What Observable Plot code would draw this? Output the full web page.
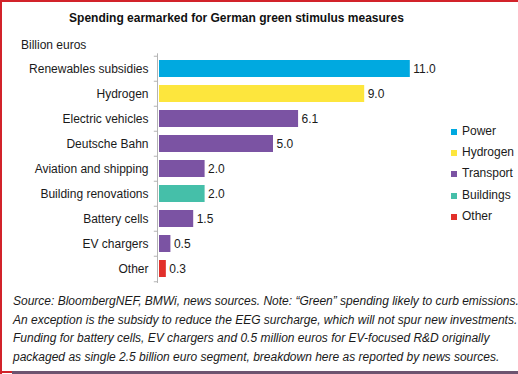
<!DOCTYPE html>
<html>
<head>
<meta charset="utf-8">
<script src="https://cdn.jsdelivr.net/npm/d3@7"></script>
<script src="https://cdn.jsdelivr.net/npm/@observablehq/plot@0.6"></script>
<style>
  html, body { margin: 0; padding: 0; background: #fff; }
  body { width: 518px; height: 374px; overflow: hidden; position: relative; font-family: "Liberation Sans", Arial, sans-serif; color: #1a1a1a; }
  .abs { position: absolute; white-space: nowrap; }
  #title { left: 0; width: 473px; top: 11px; text-align: center; font-weight: bold; font-size: 12px; color: #111; }
  #unit { left: 21px; top: 38px; font-size: 12px; }
  #chart { left: 0; top: 40px; }
  #legend { left: 451px; top: 124px; font-size: 12px; }
  #legend .item { height: 21.2px; display: flex; align-items: flex-start; }
  #legend .sw { width: 6px; height: 6px; margin-top: 5px; margin-right: 5px; }
  #foot { left: 13px; top: 292px; font-size: 12px; font-style: italic; line-height: 18.6px; }
  #bl { left: 0; top: 0; width: 2px; height: 374px; background: #d2232a; }
  #bt { left: 0; top: 0; width: 518px; height: 1.5px; background: #d2232a; }
  #bb1 { left: 0; top: 371px; width: 12px; height: 2px; background: #d2232a; }
  #bb2 { left: 12px; top: 371px; width: 506px; height: 3px; background: #6d5470; }
</style>
</head>
<body>
<div id="title" class="abs">Spending earmarked for German green stimulus measures</div>
<div id="unit" class="abs">Billion euros</div>
<div id="chart" class="abs"></div>
<div id="legend" class="abs"></div>
<div id="foot" class="abs">Source: BloombergNEF, BMWi, news sources. Note: “Green” spending likely to curb emissions.<br>An exception is the subsidy to reduce the EEG surcharge, which will not spur new investments.<br>Funding for battery cells, EV chargers and 0.5 million euros for EV-focused R&amp;D originally<br>packaged as single 2.5 billion euro segment, breakdown here as reported by news sources.</div>
<div id="bl" class="abs"></div>
<div id="bt" class="abs"></div>
<div id="bb1" class="abs"></div>
<div id="bb2" class="abs"></div>
<script>
const categories = ["Renewables subsidies", "Hydrogen", "Electric vehicles", "Deutsche Bahn", "Aviation and shipping", "Building renovations", "Battery cells", "EV chargers", "Other"];
const values = [11.0, 9.0, 6.1, 5.0, 2.0, 2.0, 1.5, 0.5, 0.3];
const groupOf = ["Power", "Hydrogen", "Transport", "Transport", "Transport", "Buildings", "Transport", "Transport", "Other"];
const groups = ["Power", "Hydrogen", "Transport", "Buildings", "Other"];
const groupColors = ["#00a9e0", "#fde63d", "#7b53a3", "#45bfa9", "#e2302b"];

const data = categories.map((c, i) => ({category: c, value: values[i], group: groupOf[i]}));

const H = 260, mTop = 13.3, mBottom = 17;
const step = (H - mTop - mBottom) / categories.length;

const chart = Plot.plot({
  width: 518,
  height: H,
  marginTop: mTop,
  marginBottom: mBottom,
  marginLeft: 159,
  marginRight: 17,
  style: {fontFamily: "Liberation Sans, Arial, sans-serif", fontSize: "12px", color: "#1a1a1a", background: "transparent"},
  x: {domain: [0, 15], axis: null},
  y: {domain: categories, paddingInner: 0.31, paddingOuter: 0.155, label: null},
  color: {domain: groups, range: groupColors},
  marks: [
    Plot.axisY({tickSize: 0, tickPadding: 11, fontSize: 12, fill: "#1a1a1a", label: null}),
    Plot.barX(data, {y: "category", x: "value", fill: "group"}),
    Plot.ruleX([0], {dx: -2, stroke: "#b4b4b4", strokeWidth: 1}),
    Plot.ruleY(categories, {y: d => d, x1: -0.14, x2: 0, dx: -2, dy: -step / 2, stroke: "#b4b4b4"}),
    Plot.ruleY(categories.slice(-1), {y: d => d, x1: -0.14, x2: 0, dx: -2, dy: step / 2, stroke: "#b4b4b4"}),
    Plot.text(data, {y: "category", x: "value", text: d => d.value.toFixed(1), dx: 3, textAnchor: "start", fill: "#1a1a1a", fontSize: 12})
  ]
});
document.getElementById("chart").appendChild(chart);

const legend = document.getElementById("legend");
groups.forEach((g, i) => {
  const item = document.createElement("div");
  item.className = "item";
  const sw = document.createElement("span");
  sw.className = "sw";
  sw.style.background = groupColors[i];
  const t = document.createElement("span");
  t.textContent = g;
  item.appendChild(sw);
  item.appendChild(t);
  legend.appendChild(item);
});
</script>
</body>
</html>
